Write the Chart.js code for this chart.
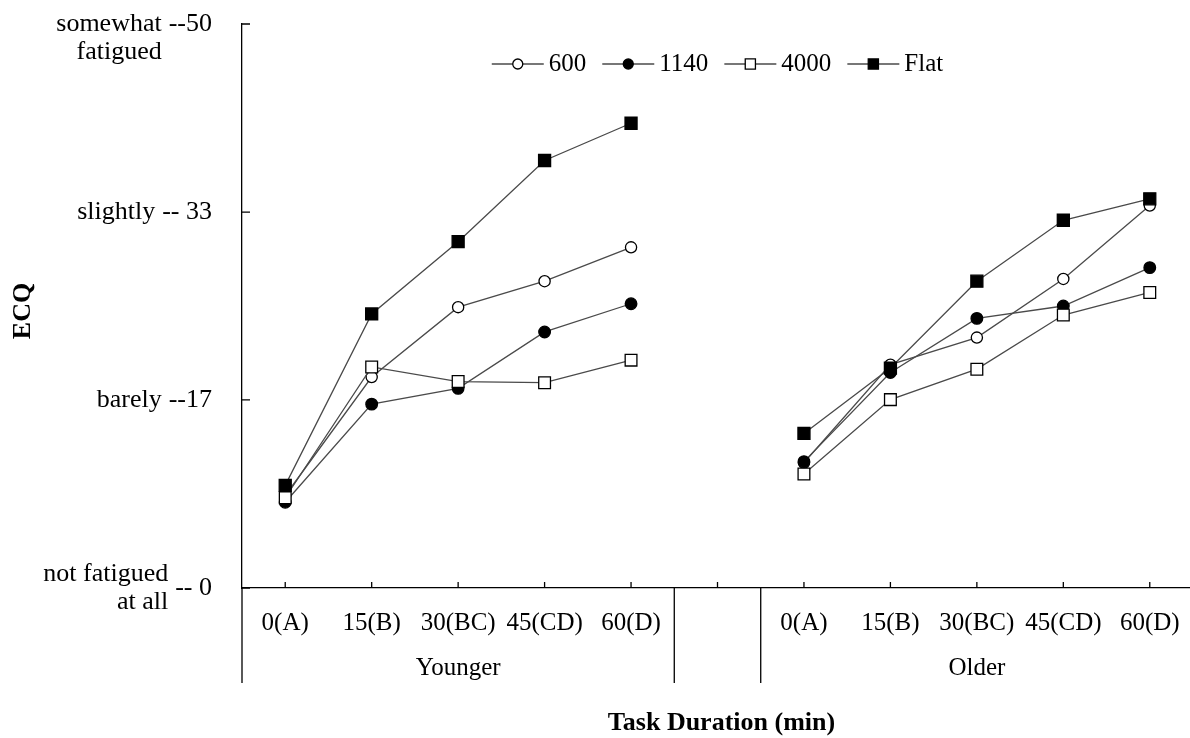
<!DOCTYPE html>
<html>
<head>
<meta charset="utf-8">
<title>ECQ by task duration</title>
<script src="https://cdn.jsdelivr.net/npm/chart.js@4.4.1/dist/chart.umd.min.js"></script>
<style>
  html, body { margin: 0; padding: 0; background: #ffffff; overflow: hidden; }
  #wrap { width: 1190px; height: 738px; position: relative; overflow: hidden; }
  #c { display: block; }
</style>
</head>
<body>
<div id="wrap"><canvas id="c" width="1193" height="738"></canvas></div>
<script>
// Task duration categories; the blank slot separates the two age groups
const categories = ['0(A)', '15(B)', '30(BC)', '45(CD)', '60(D)', '', '0(A)', '15(B)', '30(BC)', '45(CD)', '60(D)'];
const groupNames = ['Younger', '', 'Older'];
const groupSizes = [5, 1, 5];

// Mean ECQ score per condition
const s600  = [8.2, 18.7, 24.9, 27.2, 30.2, null, 11.1, 19.8, 22.2, 27.4, 33.9];
const s1140 = [7.6, 16.3, 17.7, 22.7, 25.2, null, 11.2, 19.1, 23.9, 25.0, 28.4];
const s4000 = [8.0, 19.6, 18.3, 18.2, 20.2, null, 10.1, 16.7, 19.4, 24.2, 26.2];
const sFlat = [9.1, 24.3, 30.7, 37.9, 41.2, null, 13.7, 19.5, 27.2, 32.6, 34.5];

// Y axis: scale values and their verbal anchors
const yTickValues = [0, 16.67, 33.33, 50];
const yTickNumbers = ['-- 0', '--17', '-- 33', '--50'];
const yTickWords = [['not fatigued', 'at all'], ['barely'], ['slightly'], ['somewhat', 'fatigued']];

const yTitle = 'ECQ';
const xTitle = 'Task Duration (min)';

const serif = '"Liberation Serif", "Times New Roman", Times, serif';
const lineColor = '#4a4a4a';

function series(label, data, style, filled, radius, order) {
  return {
    label, data, order,
    borderColor: lineColor,
    borderWidth: 1.3,
    pointStyle: style,
    pointRadius: radius,
    pointBorderColor: '#000',
    pointBorderWidth: 1.3,
    pointBackgroundColor: filled ? '#000' : '#fff',
    spanGaps: false,
    tension: 0,
    fill: false
  };
}

const datasets = [
  series('600', s600, 'circle', false, 5.6, 3),
  series('1140', s1140, 'circle', true, 5.8, 2),
  series('4000', s4000, 'rect', false, 8.3, 1),
  series('Flat', sFlat, 'rect', true, 8.5, 0)
];

// Axis decorations, multi-level category labels, y anchors and legend
const decor = {
  id: 'decor',
  afterDraw(chart) {
    const { ctx, chartArea: a, scales: { x, y } } = chart;
    ctx.save();
    ctx.strokeStyle = '#000';
    ctx.lineWidth = 1.3;

    // inward tick marks
    ctx.beginPath();
    yTickValues.forEach(v => {
      const py = y.getPixelForValue(v);
      ctx.moveTo(a.left, py);
      ctx.lineTo(a.left + 8, py);
    });
    categories.forEach((c, i) => {
      const px = x.getPixelForValue(i);
      ctx.moveTo(px, a.bottom);
      ctx.lineTo(px, a.bottom - 6);
    });
    ctx.stroke();

    // group boundary lines below the axis
    const half = (x.getPixelForValue(1) - x.getPixelForValue(0)) / 2;
    const lineBottom = a.bottom + 95;
    ctx.beginPath();
    let idx = 0;
    const bounds = [x.getPixelForValue(0) - half];
    groupSizes.forEach(n => { idx += n; bounds.push(x.getPixelForValue(idx - 1) + half); });
    bounds.forEach(bx => { ctx.moveTo(bx, a.bottom); ctx.lineTo(bx, lineBottom); });
    ctx.stroke();

    // category labels
    ctx.fillStyle = '#000';
    ctx.textBaseline = 'middle';
    ctx.textAlign = 'center';
    ctx.font = '25px ' + serif;
    categories.forEach((c, i) => {
      if (c) ctx.fillText(c, x.getPixelForValue(i), a.bottom + 35);
    });

    // group labels
    idx = 0;
    groupNames.forEach((g, gi) => {
      const first = idx, last = idx + groupSizes[gi] - 1;
      idx += groupSizes[gi];
      if (!g) return;
      const cx = (x.getPixelForValue(first) + x.getPixelForValue(last)) / 2;
      ctx.fillText(g, cx, a.bottom + 80);
    });

    // x axis title
    ctx.font = 'bold 26px ' + serif;
    ctx.fillText(xTitle, (a.left + a.right) / 2 + 4, a.bottom + 135);

    // y axis title
    ctx.save();
    ctx.translate(23, (a.top + a.bottom) / 2 + 5);
    ctx.rotate(-Math.PI / 2);
    ctx.fillText(yTitle, 0, 0);
    ctx.restore();

    // y anchors: number next to the axis, words to its left
    ctx.font = '26px ' + serif;
    const numRight = a.left - 30;
    yTickValues.forEach((v, i) => {
      const py = y.getPixelForValue(v);
      ctx.textAlign = 'right';
      const num = yTickNumbers[i];
      ctx.fillText(num, numRight, py);
      const wordRight = numRight - ctx.measureText(num).width - 7;
      const words = yTickWords[i];
      const lh = 28;
      const startY = (i === yTickValues.length - 1) ? py : py - (words.length - 1) * lh / 2;
      words.forEach((w, k) => ctx.fillText(w, wordRight, startY + k * lh));
    });

    // legend
    ctx.font = '25px ' + serif;
    const lineLen = 52, gapText = 5, gapItem = 16;
    const widths = datasets.map(d => ctx.measureText(d.label).width);
    const total = widths.reduce((s, w) => s + lineLen + gapText + w, 0) + gapItem * (datasets.length - 1);
    let lx = (a.left + a.right) / 2 - total / 2;
    const ly = a.top + 40;
    datasets.forEach((d, i) => {
      ctx.strokeStyle = lineColor;
      ctx.lineWidth = 1.3;
      ctx.beginPath();
      ctx.moveTo(lx, ly);
      ctx.lineTo(lx + lineLen, ly);
      ctx.stroke();
      ctx.fillStyle = d.pointBackgroundColor;
      ctx.strokeStyle = '#000';
      ctx.lineWidth = 1.3;
      Chart.helpers.drawPoint(ctx, {
        pointStyle: d.pointStyle,
        radius: d.pointStyle === 'rect' ? 7.2 : 5,
        borderWidth: 1.3,
        rotation: 0
      }, lx + lineLen / 2, ly);
      ctx.fillStyle = '#000';
      ctx.textAlign = 'left';
      ctx.fillText(d.label, lx + lineLen + gapText, ly);
      lx += lineLen + gapText + widths[i] + gapItem;
    });

    ctx.restore();
  }
};

new Chart(document.getElementById('c'), {
  type: 'line',
  data: { labels: categories, datasets },
  options: {
    responsive: false,
    animation: false,
    devicePixelRatio: 1,
    layout: { padding: { left: 242, right: 0, top: 24, bottom: 150 }, autoPadding: false },
    plugins: { legend: { display: false }, tooltip: { enabled: false } },
    scales: {
      x: {
        type: 'category',
        offset: true,
        grid: { display: false, drawTicks: false },
        ticks: { display: false },
        border: { display: true, color: '#000', width: 1.3 }
      },
      y: {
        min: 0,
        max: 50,
        grid: { display: false, drawTicks: false },
        ticks: { display: false },
        border: { display: true, color: '#000', width: 1.3 }
      }
    }
  },
  plugins: [decor]
});
</script>
</body>
</html>
